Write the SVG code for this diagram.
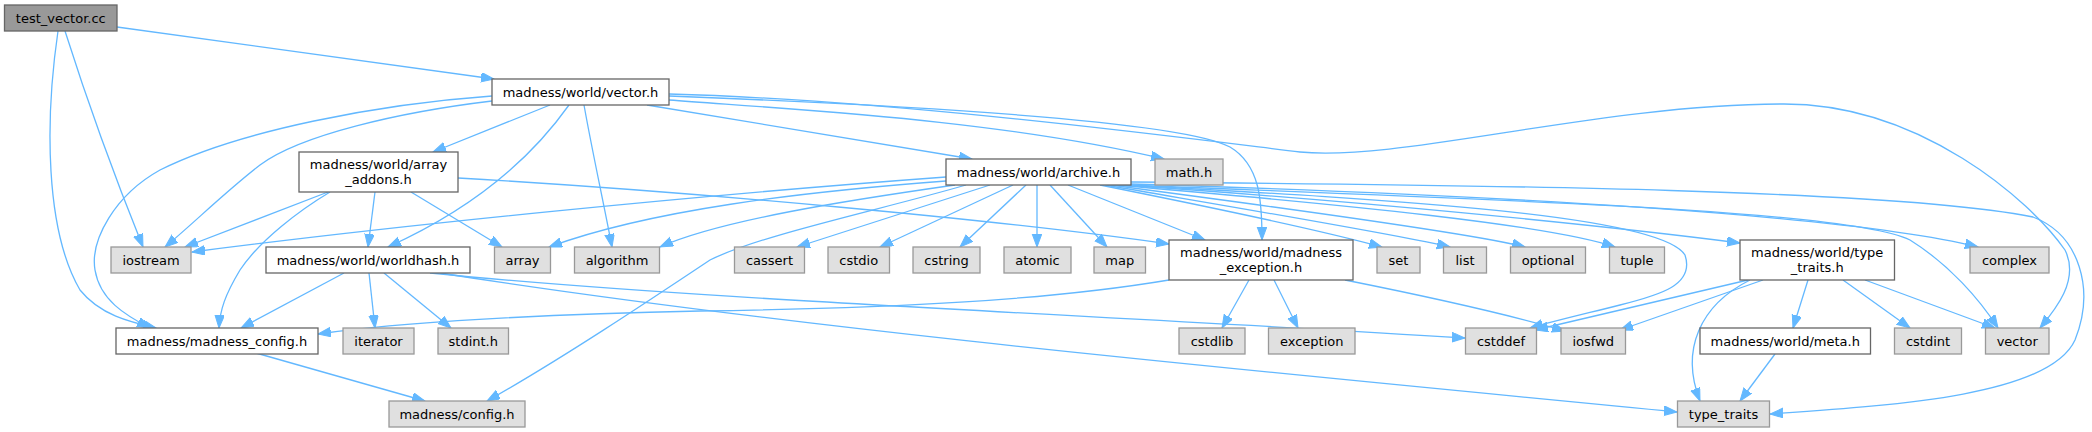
<svg xmlns="http://www.w3.org/2000/svg" width="2092" height="432" viewBox="0 0 2092 432">
<style>
.node rect{fill:#ffffff;stroke:#666666;stroke-width:1.3}
.ext rect{fill:#e0e0e0;stroke:#999999;stroke-width:1.3}
.root rect{fill:#999999;stroke:#666666;stroke-width:1.3}
text{font-family:"DejaVu Sans","Liberation Sans",sans-serif;font-size:13px;fill:#000000;text-anchor:middle}
#edges path{fill:none;stroke:#63b8ff;stroke-width:1.3;marker-end:url(#arr)}
</style>
<defs>
<marker id="arr" markerUnits="userSpaceOnUse" markerWidth="14" markerHeight="11" refX="13" refY="4.8" orient="auto">
<path d="M0,0 L13,4.8 L0,9.6 Z" fill="#63b8ff" stroke="#63b8ff" stroke-width="1"/>
</marker>
</defs>
<rect width="2092" height="432" fill="#ffffff"/>
<g id="edges">
<path d="M117,27 L494,79"/>
<path d="M65,31 C90,110 120,190 143,247"/>
<path d="M58,31 C45,120 45,230 80,290 C100,315 130,322 156,328"/>
<path d="M492,96 C380,104 240,130 160,170 C115,195 90,240 95,270 C100,300 125,315 150,328"/>
<path d="M492,101 C400,112 300,135 260,165 C225,192 195,222 165,247"/>
<path d="M550,105 L433,152"/>
<path d="M569,105 C530,160 470,210 388,247"/>
<path d="M584,105 C592,150 603,200 612,247"/>
<path d="M647,105 L972,159"/>
<path d="M669,100 C800,110 1000,120 1164,159"/>
<path d="M669,96 C900,105 1180,120 1230,147 C1260,165 1262,200 1262,240"/>
<path d="M669,94 C900,100 1200,140 1300,152 C1400,162 1600,104 1784,104 C1920,104 2030,200 2065,250 C2080,280 2055,310 2040,328"/>
<path d="M328,192 L185,247"/>
<path d="M330,192 C300,210 260,240 240,270 C225,295 220,310 219,328"/>
<path d="M375,192 L368,247"/>
<path d="M411,192 L502,247"/>
<path d="M458,178 C700,192 1000,220 1169,244"/>
<path d="M946,177 C700,195 400,225 192,252"/>
<path d="M946,181 C800,192 650,210 549,247"/>
<path d="M955,185 C850,200 720,220 660,247"/>
<path d="M966,185 C880,210 760,235 710,260 C650,300 560,360 487,401"/>
<path d="M990,185 L797,247"/>
<path d="M1013,185 L880,247"/>
<path d="M1026,185 L960,247"/>
<path d="M1037,185 L1037,247"/>
<path d="M1050,185 L1107,247"/>
<path d="M1068,185 L1205,240"/>
<path d="M1100,185 C1200,205 1320,230 1382,247"/>
<path d="M1105,185 C1250,210 1400,235 1450,247"/>
<path d="M1110,185 C1300,210 1480,235 1525,247"/>
<path d="M1115,185 C1350,205 1550,225 1615,247"/>
<path d="M1120,185 C1350,200 1600,225 1740,243"/>
<path d="M1125,185 C1400,200 1660,215 1685,255 C1695,285 1660,295 1620,305 C1580,315 1550,322 1530,328"/>
<path d="M1128,185 C1500,200 1850,210 1910,240 C1950,265 1980,300 1998,328"/>
<path d="M1130,184 C1500,195 1850,215 1978,247"/>
<path d="M1131,182 C1500,185 1900,190 2033,217 C2080,235 2095,290 2075,340 C2050,395 1900,405 1770,414"/>
<path d="M344,273 L241,328"/>
<path d="M369,273 L375,328"/>
<path d="M384,273 L451,328"/>
<path d="M430,273 C700,300 1100,315 1465,338"/>
<path d="M440,273 C800,330 1300,375 1677,412"/>
<path d="M1169,280 C1050,300 900,308 700,311 C550,314 400,322 318,334"/>
<path d="M1249,280 L1222,328"/>
<path d="M1274,280 L1298,328"/>
<path d="M1345,280 C1420,295 1500,312 1565,331"/>
<path d="M1748,280 L1535,330"/>
<path d="M1763,280 L1620,330"/>
<path d="M1750,280 C1700,305 1680,350 1700,401"/>
<path d="M1808,280 L1793,328"/>
<path d="M1843,280 L1910,328"/>
<path d="M1865,280 L1995,328"/>
<path d="M1775,354 L1740,401"/>
<path d="M256,353 L425,401"/>
</g>
<g id="n_test_vector" class="root"><rect x="4.5" y="5" width="112.5" height="26"/><text x="60.75" y="22.5">test_vector.cc</text></g>
<g id="n_vector_h" class="node"><rect x="492" y="79" width="177" height="26"/><text x="580.5" y="96.5">madness/world/vector.h</text></g>
<g id="n_array_addons" class="node"><rect x="299" y="152" width="159" height="40"/><text x="378.5" y="169">madness/world/array</text><text x="378.5" y="184">_addons.h</text></g>
<g id="n_archive" class="node"><rect x="946" y="159" width="185" height="26"/><text x="1038.5" y="176.5">madness/world/archive.h</text></g>
<g id="n_math" class="ext"><rect x="1155" y="159" width="68" height="26"/><text x="1189" y="176.5">math.h</text></g>
<g id="n_iostream" class="ext"><rect x="111" y="247" width="80" height="26"/><text x="151" y="264.5">iostream</text></g>
<g id="n_worldhash" class="node"><rect x="266" y="247" width="204" height="26"/><text x="368" y="264.5">madness/world/worldhash.h</text></g>
<g id="n_array" class="ext"><rect x="494.5" y="247" width="56" height="26"/><text x="522.5" y="264.5">array</text></g>
<g id="n_algorithm" class="ext"><rect x="574.5" y="247" width="85" height="26"/><text x="617" y="264.5">algorithm</text></g>
<g id="n_cassert" class="ext"><rect x="734.5" y="247" width="70" height="26"/><text x="769.5" y="264.5">cassert</text></g>
<g id="n_cstdio" class="ext"><rect x="828" y="247" width="61.5" height="26"/><text x="858.75" y="264.5">cstdio</text></g>
<g id="n_cstring" class="ext"><rect x="913" y="247" width="67" height="26"/><text x="946.5" y="264.5">cstring</text></g>
<g id="n_atomic" class="ext"><rect x="1004" y="247" width="67" height="26"/><text x="1037.5" y="264.5">atomic</text></g>
<g id="n_map" class="ext"><rect x="1094" y="247" width="51.5" height="26"/><text x="1119.75" y="264.5">map</text></g>
<g id="n_madness_exception" class="node"><rect x="1169" y="240" width="184" height="40"/><text x="1261" y="257">madness/world/madness</text><text x="1261" y="272">_exception.h</text></g>
<g id="n_set" class="ext"><rect x="1377" y="247" width="43" height="26"/><text x="1398.5" y="264.5">set</text></g>
<g id="n_list" class="ext"><rect x="1443.5" y="247" width="43" height="26"/><text x="1465" y="264.5">list</text></g>
<g id="n_optional" class="ext"><rect x="1510.5" y="247" width="75" height="26"/><text x="1548" y="264.5">optional</text></g>
<g id="n_tuple" class="ext"><rect x="1609.5" y="247" width="55" height="26"/><text x="1637" y="264.5">tuple</text></g>
<g id="n_type_traits_h" class="node"><rect x="1740" y="240" width="154.5" height="40"/><text x="1817.25" y="257">madness/world/type</text><text x="1817.25" y="272">_traits.h</text></g>
<g id="n_complex" class="ext"><rect x="1970" y="247" width="79" height="26"/><text x="2009.5" y="264.5">complex</text></g>
<g id="n_madness_config" class="node"><rect x="116" y="328" width="202" height="26"/><text x="217" y="345.5">madness/madness_config.h</text></g>
<g id="n_iterator" class="ext"><rect x="343" y="328" width="71" height="26"/><text x="378.5" y="345.5">iterator</text></g>
<g id="n_stdint" class="ext"><rect x="438" y="328" width="70.5" height="26"/><text x="473.25" y="345.5">stdint.h</text></g>
<g id="n_cstdlib" class="ext"><rect x="1179" y="328" width="66" height="26"/><text x="1212" y="345.5">cstdlib</text></g>
<g id="n_exception" class="ext"><rect x="1268.5" y="328" width="86.5" height="26"/><text x="1311.75" y="345.5">exception</text></g>
<g id="n_cstddef" class="ext"><rect x="1465.5" y="328" width="71" height="26"/><text x="1501" y="345.5">cstddef</text></g>
<g id="n_iosfwd" class="ext"><rect x="1561" y="328" width="64.5" height="26"/><text x="1593.25" y="345.5">iosfwd</text></g>
<g id="n_meta" class="node"><rect x="1700" y="328" width="170.5" height="26"/><text x="1785.25" y="345.5">madness/world/meta.h</text></g>
<g id="n_cstdint" class="ext"><rect x="1894.5" y="328" width="67" height="26"/><text x="1928" y="345.5">cstdint</text></g>
<g id="n_vector" class="ext"><rect x="1985.5" y="328" width="63.5" height="26"/><text x="2017.25" y="345.5">vector</text></g>
<g id="n_config" class="ext"><rect x="389" y="401" width="136" height="26"/><text x="457" y="418.5">madness/config.h</text></g>
<g id="n_type_traits" class="ext"><rect x="1677.5" y="401" width="92" height="26"/><text x="1723.5" y="418.5">type_traits</text></g>
</svg>
